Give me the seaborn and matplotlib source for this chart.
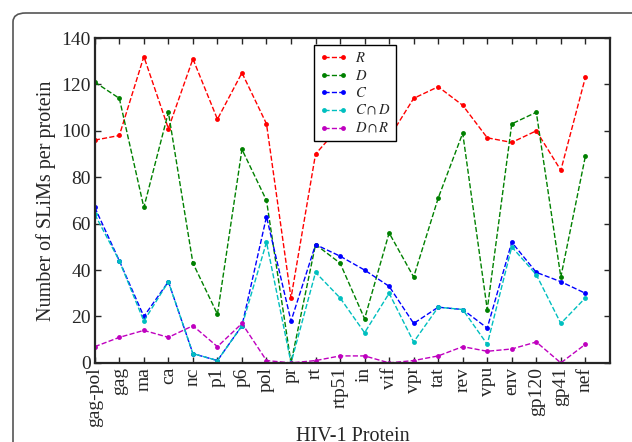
# import libraries
import seaborn as sns
import matplotlib.pyplot as plt
from matplotlib.patches import FancyBboxPatch

# data
proteins = ["gag-pol", "gag", "ma", "ca", "nc", "p1", "p6", "pol", "pr", "rt",
            "rtp51", "in", "vif", "vpr", "tat", "rev", "vpu", "env", "gp120",
            "gp41", "nef"]
R = [96, 98, 132, 101, 131, 105, 125, 103, 28, 90, 102, 99, 97, 114, 119, 111,
     97, 95, 100, 83, 123]
D = [121, 114, 67, 108, 43, 21, 92, 70, 0, 51, 43, 19, 56, 37, 71, 99, 23,
     103, 108, 37, 89]
C = [67, 44, 20, 35, 4, 1, 16, 63, 18, 51, 46, 40, 33, 17, 24, 23, 15, 52, 39,
     35, 30]
C_and_D = [64, 44, 18, 35, 4, 1, 16, 52, 0, 39, 28, 13, 30, 9, 24, 23, 8, 50,
           38, 17, 28]
D_and_R = [7, 11, 14, 11, 16, 7, 17, 1, 0, 1, 3, 3, 0, 1, 3, 7, 5, 6, 9, 0, 8]

series = [(R, "r", r"$R$"), (D, "g", r"$D$"), (C, "b", r"$C$"),
          (C_and_D, "c", r"$C\cap D$"), (D_and_R, "m", r"$D\cap R$")]

sns.set_style("ticks")
plt.rcParams["font.family"] = ["Liberation Serif", "DejaVu Serif"]
plt.rcParams["mathtext.fontset"] = "stix"

fig = plt.figure(figsize=(6.32, 4.42), dpi=100)
ax = fig.add_axes([0.150, 0.179, 0.815, 0.735])

# rounded frame around the figure
frame = FancyBboxPatch((13 / 632, -0.2), 1.2, 1 - 13 / 442 + 0.2,
                       boxstyle="round,pad=0,rounding_size=0.02",
                       transform=fig.transFigure, fill=False,
                       edgecolor="#555555", linewidth=1.2)
fig.patches.append(frame)

for vals, col, lab in series:
    sns.lineplot(x=proteins, y=vals, color=col, linestyle="--", marker="o",
                 markersize=3.5, markeredgewidth=0, linewidth=1, label=lab,
                 dashes=(5, 3.5), ax=ax)

ax.set_xlim(0, 21)
ax.set_ylim(0, 140)
ax.set_yticks(range(0, 141, 20))
ax.set_xticks(range(len(proteins)))
ax.set_xticklabels(proteins, rotation=90)
ax.tick_params(direction="in", top=True, right=True, length=4, width=1,
               labelsize=14, pad=3)
for s in ax.spines.values():
    s.set_linewidth(1.6)
    s.set_visible(True)
ax.set_xlabel("HIV-1 Protein", fontsize=14.5, labelpad=0)
ax.set_ylabel("Number of SLiMs per protein", fontsize=14.5)

leg = ax.legend(loc="upper left", bbox_to_anchor=(0.425, 0.978), numpoints=2,
                fontsize=10.5, fancybox=False, shadow=False, framealpha=1,
                edgecolor="black", handlelength=1.9, handletextpad=0.5,
                labelspacing=0.25, borderpad=0.4, borderaxespad=0)
leg.get_frame().set_linewidth(1)

plt.savefig("out.png", dpi=100)
